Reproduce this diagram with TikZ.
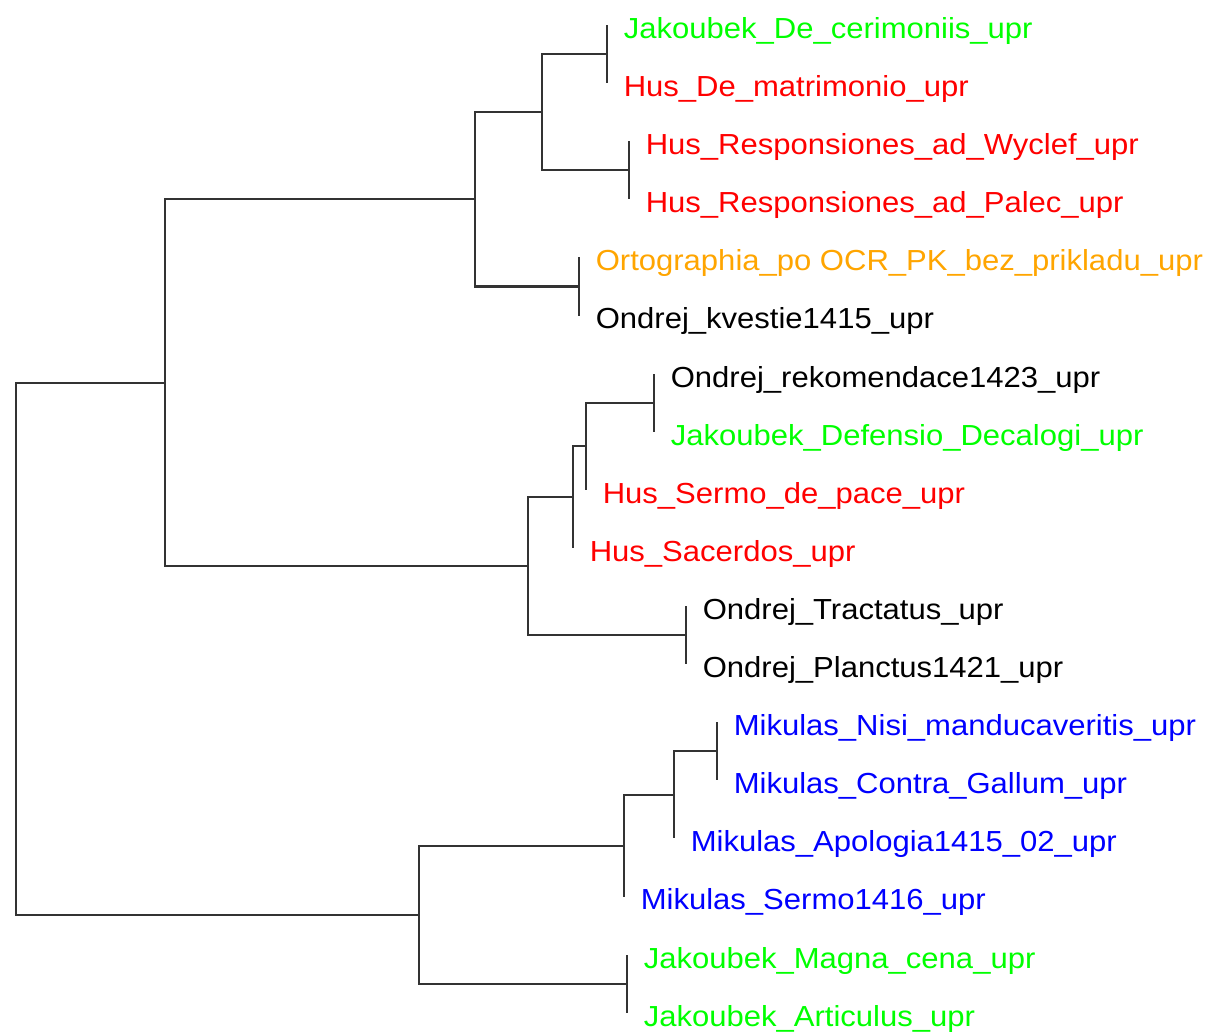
\documentclass[tikz,border=0pt]{standalone}
\usepackage{fontspec}
\newfontfamily\labfont[FakeStretch=1.07]{Liberation Sans}
\definecolor{rgreen}{HTML}{00FF00}
\definecolor{rred}{HTML}{FF0000}
\definecolor{rorange}{HTML}{FFA500}
\definecolor{rblue}{HTML}{0000FF}
\definecolor{edgecol}{HTML}{333333}
\tikzset{
  branch/.style={draw=edgecol, line width=1.6pt, line cap=square},
  tiplab/.style={anchor=base west, inner sep=0pt, xshift=12.4pt, yshift=-10.1pt,
    font=\labfont\fontsize{21.75pt}{26pt}\selectfont},
}
\begin{document}
\begin{tikzpicture}[x=0.75pt, y=-0.75pt]
\useasboundingbox (0,0) rectangle (1211,1032);
% tips (y = 25 + (i-1)*58.1)
\coordinate (t1)  at (607, 25.0);
\coordinate (t2)  at (607, 83.1);
\coordinate (t3)  at (629, 141.2);
\coordinate (t4)  at (629, 199.3);
\coordinate (t5)  at (579, 257.4);
\coordinate (t6)  at (579, 315.5);
\coordinate (t7)  at (654, 373.6);
\coordinate (t8)  at (654, 431.7);
\coordinate (t9)  at (586, 489.8);
\coordinate (t10) at (573, 547.9);
\coordinate (t11) at (686, 606.0);
\coordinate (t12) at (686, 664.1);
\coordinate (t13) at (717, 722.2);
\coordinate (t14) at (717, 780.3);
\coordinate (t15) at (674, 838.4);
\coordinate (t16) at (624, 896.5);
\coordinate (t17) at (627, 954.6);
\coordinate (t18) at (627, 1012.7);
% internal nodes
\coordinate (n12)   at (607, 54.05);
\coordinate (n34)   at (629, 170.25);
\coordinate (n1234) at (542, 112.15);
\coordinate (n56)   at (579, 286.45);
\coordinate (ntop)  at (475, 199.3);
\coordinate (n78)   at (654, 402.65);
\coordinate (n789)  at (586, 446.2);
\coordinate (n7810) at (573, 497.1);
\coordinate (n1112) at (686, 635.05);
\coordinate (nmid)  at (528, 566.1);
\coordinate (nA)    at (165, 382.7);
\coordinate (n1314) at (717, 751.25);
\coordinate (n1315) at (674, 794.8);
\coordinate (n1316) at (624, 845.65);
\coordinate (n1718) at (627, 983.65);
\coordinate (nB)    at (419, 914.65);
\coordinate (root)  at (16, 648.7);
% branches
\draw[branch] (root) |- (nA);
\draw[branch] (root) |- (nB);
\draw[branch] (nA) |- (ntop);
\draw[branch] (nA) |- (nmid);
\draw[branch] (ntop) |- (n1234);
\draw[branch] (ntop) |- (n56);
\draw[branch] (n1234) |- (n12);
\draw[branch] (n1234) |- (n34);
\draw[branch] (n12) -- (t1);
\draw[branch] (n12) -- (t2);
\draw[branch] (n34) -- (t3);
\draw[branch] (n34) -- (t4);
\draw[branch] (n56) -- (t5);
\draw[branch] (n56) -- (t6);
\draw[branch] (nmid) |- (n7810);
\draw[branch] (nmid) |- (n1112);
\draw[branch] (n7810) |- (n789);
\draw[branch] (n7810) -- (t10);
\draw[branch] (n789) |- (n78);
\draw[branch] (n789) -- (t9);
\draw[branch] (n78) -- (t7);
\draw[branch] (n78) -- (t8);
\draw[branch] (n1112) -- (t11);
\draw[branch] (n1112) -- (t12);
\draw[branch] (nB) |- (n1316);
\draw[branch] (nB) |- (n1718);
\draw[branch] (n1316) |- (n1315);
\draw[branch] (n1316) -- (t16);
\draw[branch] (n1315) |- (n1314);
\draw[branch] (n1315) -- (t15);
\draw[branch] (n1314) -- (t13);
\draw[branch] (n1314) -- (t14);
\draw[branch] (n1718) -- (t17);
\draw[branch] (n1718) -- (t18);
% labels
\node[tiplab, text=rgreen]  (l1)  at (t1)  {Jakoubek\_De\_cerimoniis\_upr};
\node[tiplab, text=rred]    (l2)  at (t2)  {Hus\_De\_matrimonio\_upr};
\node[tiplab, text=rred]    (l3)  at (t3)  {Hus\_Responsiones\_ad\_Wyclef\_upr};
\node[tiplab, text=rred]    (l4)  at (t4)  {Hus\_Responsiones\_ad\_Palec\_upr};
\node[tiplab, text=rorange] (l5)  at (t5)  {Ortographia\_po OCR\_PK\_bez\_prikladu\_upr};
\node[tiplab, text=black]   (l6)  at (t6)  {Ondrej\_kvestie1415\_upr};
\node[tiplab, text=black]   (l7)  at (t7)  {Ondrej\_rekomendace1423\_upr};
\node[tiplab, text=rgreen]  (l8)  at (t8)  {Jakoubek\_Defensio\_Decalogi\_upr};
\node[tiplab, text=rred]    (l9)  at (t9)  {Hus\_Sermo\_de\_pace\_upr};
\node[tiplab, text=rred]    (l10) at (t10) {Hus\_Sacerdos\_upr};
\node[tiplab, text=black]   (l11) at (t11) {Ondrej\_Tractatus\_upr};
\node[tiplab, text=black]   (l12) at (t12) {Ondrej\_Planctus1421\_upr};
\node[tiplab, text=rblue]   (l13) at (t13) {Mikulas\_Nisi\_manducaveritis\_upr};
\node[tiplab, text=rblue]   (l14) at (t14) {Mikulas\_Contra\_Gallum\_upr};
\node[tiplab, text=rblue]   (l15) at (t15) {Mikulas\_Apologia1415\_02\_upr};
\node[tiplab, text=rblue]   (l16) at (t16) {Mikulas\_Sermo1416\_upr};
\node[tiplab, text=rgreen]  (l17) at (t17) {Jakoubek\_Magna\_cena\_upr};
\node[tiplab, text=rgreen]  (l18) at (t18) {Jakoubek\_Articulus\_upr};
\end{tikzpicture}
\end{document}
